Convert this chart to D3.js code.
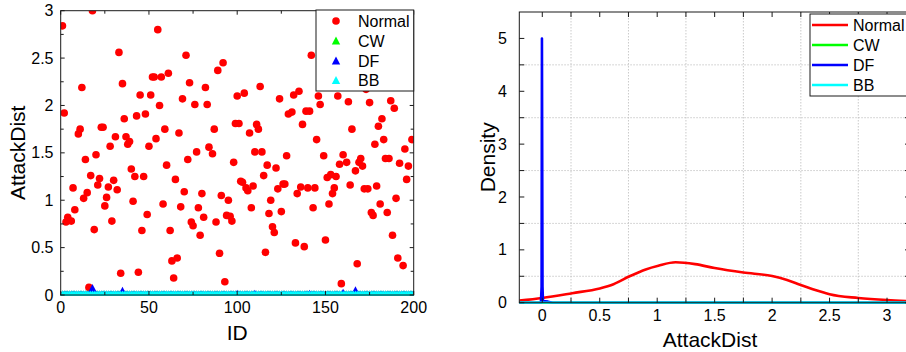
<!DOCTYPE html>
<html><head><meta charset="utf-8">
<script src="https://cdn.jsdelivr.net/npm/d3@7/dist/d3.min.js"></script>
<style>html,body{margin:0;padding:0;background:#fff}svg{display:block;font-family:"Liberation Sans",Arial,Helvetica,sans-serif}</style>
</head><body><svg id="chart" width="906" height="352"></svg>
<script>
// ---------- DATA ----------
const seriesNames = ["Normal", "CW", "DF", "BB"];
const seriesColors = ["#ff0000", "#00ff00", "#0000ff", "#00ffff"];

// Left panel: AttackDist per ID (Normal)
const normalIds = [1,2,3,4,6,7,8,10,11,12,13,14,15,16,17,18,19,20,21,22,23,24,25,26,27,28,29,30,31,32,33,34,35,36,37,38,39,40,41,42,43,44,45,46,47,48,49,50,
51,52,53,54,55,56,57,58,59,60,61,62,63,64,65,66,67,68,69,70,71,72,73,74,75,76,77,78,79,80,81,82,83,84,86,87,88,89,90,91,92,93,94,95,96,97,98,99,100,101,
102,103,104,105,106,107,108,109,110,111,112,113,114,115,116,117,118,119,120,121,122,123,124,125,126,127,128,129,131,132,133,134,135,136,137,138,139,140,141,142,143,144,145,146,147,149,150,
151,152,153,154,155,156,157,158,159,160,162,163,164,165,167,168,169,170,171,172,173,174,175,176,177,178,179,180,181,182,183,184,185,186,187,188,189,190,191,192,194,195,196,197,199,200];
const normalValues = [2.84,1.92,0.77,0.82,0.78,1.13,0.90,1.70,1.75,2.19,1.02,1.43,1.08,0.08,1.26,3.00,0.69,1.48,1.16,1.23,1.77,1.77,0.94,1.03,1.14,1.57,0.78,1.21,1.67,1.11,2.56,0.23,2.23,1.86,1.67,1.59,1.62,1.33,0.99,1.25,1.89,0.24,2.11,0.68,1.25,1.91,0.85,1.57,
2.11,2.30,2.30,1.65,2.80,2.00,2.30,0.96,1.75,1.37,2.34,0.68,0.36,0.18,1.22,0.39,1.71,0.93,2.07,1.09,2.53,1.43,2.24,0.77,0.73,2.01,1.51,0.92,0.63,1.07,0.82,2.19,2.01,1.56,1.49,1.75,0.77,2.37,0.44,1.05,2.45,0.14,0.84,1.00,0.83,0.78,1.40,1.81,2.10,1.81,
1.20,1.19,2.13,1.13,1.10,1.71,0.92,1.15,1.51,1.80,1.75,2.20,1.51,1.26,0.45,1.37,0.86,1.00,0.72,0.66,1.34,1.12,2.07,0.88,1.17,1.17,1.47,1.91,1.93,2.11,0.55,1.07,2.15,1.14,1.80,0.51,1.94,1.13,1.94,2.53,0.92,1.13,1.64,2.10,2.01,1.47,0.58,
1.24,0.96,1.27,1.07,1.13,1.25,2.10,1.38,0.12,1.48,1.40,2.04,1.16,1.75,1.31,0.33,1.40,1.44,1.36,1.12,2.17,1.12,2.03,0.87,0.84,1.59,1.15,1.78,0.96,1.86,1.64,1.44,0.87,1.44,2.05,0.63,1.97,1.02,0.39,1.39,0.31,1.54,1.22,1.36,1.64,2.65];

// Attack series: value for ID 1..200
const cwValues = [0,0,0,0,0,0,0,0,0,0,0,0,0,0,0,0,0,0,0,0,0,0,0,0,0,0,0,0,0,0,0,0,0,0,0,0,0,0,0,0,0,0,0,0,0,0,0,0,0,0,
0,0,0,0,0,0,0,0,0,0,0,0,0,0,0,0,0,0,0,0,0,0,0,0,0,0,0,0,0,0,0,0,0,0,0,0,0,0,0,0,0,0,0,0,0,0,0,0,0,0,
0,0,0,0,0,0,0,0,0,0,0,0,0,0,0,0,0,0,0,0,0,0,0,0,0,0,0,0,0,0,0,0,0,0,0,0,0,0,0,0,0,0,0,0,0,0,0,0,0,0,
0,0,0,0,0,0,0,0,0,0,0,0,0,0,0,0,0,0,0,0,0,0,0,0,0,0,0,0,0,0,0,0,0,0,0,0,0,0,0,0,0,0,0,0,0,0,0,0,0,0];
const dfValues = [0,0,0,0,0,0,0,0,0,0,0,0,0,0,0,0,0,0.07,0,0,0,0,0,0,0,0,0,0,0,0,0,0,0,0,0.04,0,0,0,0,0,0,0,0,0,0,0,0,0,0,0,
0,0,0,0,0,0,0,0,0,0,0,0,0,0,0,0,0,0,0,0,0,0,0,0,0,0,0,0,0,0,0,0,0,0,0,0,0,0,0,0,0,0,0,0,0,0,0,0,0,0.01,
0,0,0,0,0,0,0,0,0,0.01,0,0,0,0,0,0,0,0,0,0,0,0,0,0,0,0,0,0,0,0,0,0,0,0,0,0,0,0,0,0,0.01,0,0,0,0,0,0,0,0,0,
0,0,0,0,0,0,0,0,0,0.02,0,0,0,0,0,0,0.045,0,0,0,0,0,0,0,0,0,0,0,0,0,0,0,0,0,0,0,0,0,0,0,0,0,0,0,0,0,0,0,0,0];
const bbValues = [0,0,0,0,0,0,0,0,0,0,0,0,0,0,0,0,0,0,0,0,0,0,0,0,0,0,0,0,0,0,0,0,0,0,0,0,0,0,0,0,0,0,0,0,0,0,0,0,0,0,
0,0,0,0,0,0,0,0,0,0,0,0,0,0,0,0,0,0,0,0,0,0,0,0,0,0,0,0,0,0,0,0,0,0,0,0,0,0,0,0,0,0,0,0,0,0,0,0,0,0,
0,0,0,0,0,0,0,0,0,0,0,0,0,0,0,0,0,0,0,0,0,0,0,0,0,0,0,0,0,0,0,0,0,0,0,0,0,0,0,0,0,0,0,0,0,0,0,0,0,0,
0,0,0,0,0,0,0,0,0,0,0,0,0,0,0,0,0,0,0,0,0,0,0,0,0,0,0,0,0,0,0,0,0,0,0,0,0,0,0,0,0,0,0,0,0,0,0,0,0,0];

const leftXTicks = [0, 50, 100, 150, 200];
const leftXMinor = [25, 75, 125, 175];
const leftYTicks = [0, 0.5, 1, 1.5, 2, 2.5, 3];
const leftYMinor = [0.25, 0.75, 1.25, 1.75, 2.25, 2.75];

// Right panel: density curves
const normalDensityX = [-0.2, 0, 0.26, 0.5, 0.62, 0.76, 0.9, 1.01, 1.16, 1.33, 1.5, 1.75, 2.0, 2.13, 2.25, 2.42, 2.5, 2.75, 3.0, 3.2];
const normalDensity  = [0.04, 0.09, 0.18, 0.27, 0.35, 0.50, 0.63, 0.70, 0.765, 0.73, 0.655, 0.57, 0.505, 0.43, 0.335, 0.21, 0.16, 0.09, 0.05, 0.03];
const dfDensityX = [-0.2, -0.012, -0.006, -0.003, 0.002, 0.006, 0.05, 0.09, 3.2];
const dfDensity  = [0, 0, 0.3, 5.0, 0.3, 0.03, 0.02, 0, 0];
const cwDensityX = [-0.2, 3.2];
const cwDensity  = [0, 0];
const bbDensityX = [-0.2, 3.2];
const bbDensity  = [0, 0];

const rightXTicks = [0, 0.5, 1, 1.5, 2, 2.5, 3];
const rightXMinor = [0.25, 0.75, 1.25, 1.75, 2.25, 2.75];
const rightYTicks = [0, 1, 2, 3, 4, 5];
const rightYMinor = [0.5, 1.5, 2.5, 3.5, 4.5];

// ---------- DRAW ----------
const svg = d3.select("#chart");
const axisColor = "#1a1a1a";
const FS = 16;

svg.append("rect").attr("width", 906).attr("height", 352).attr("fill", "#fff");
const defs = svg.append("defs");

function tri(s) { return `M0,${-s} L${s*0.95},${s*0.8} L${-s*0.95},${s*0.8} Z`; }

// ===== LEFT PANEL =====
const L = {x0: 60.7, x1: 413.7, y0: 10.7, y1: 295};
const lx = d3.scaleLinear().domain([0, 200]).range([L.x0, L.x1]);
const ly = d3.scaleLinear().domain([0, 3]).range([L.y1, L.y0]);

defs.append("clipPath").attr("id", "clipL").append("rect")
  .attr("x", L.x0).attr("y", L.y0).attr("width", L.x1 - L.x0).attr("height", L.y1 - L.y0 + 1);

const gL = svg.append("g");
const dataL = gL.append("g").attr("clip-path", "url(#clipL)");

dataL.selectAll("circle.normal").data(normalIds.map((id, i) => [id, normalValues[i]]))
  .join("circle").attr("class", "normal")
  .attr("cx", d => lx(d[0])).attr("cy", d => ly(d[1])).attr("r", 3.8)
  .attr("fill", seriesColors[0]);

[[cwValues, 1], [dfValues, 2], [bbValues, 3]].forEach(([vals, k]) => {
  dataL.append("g").selectAll("path").data(vals.map((v, i) => [i + 1, v]))
    .join("path")
    .attr("d", tri(4.4))
    .attr("transform", d => `translate(${lx(d[0])},${ly(d[1])})`)
    .attr("fill", seriesColors[k]);
});

// axes box + ticks
function drawTicks(g, box, xs, ys, xTicksMajor, xTicksMinor, yTicksMajor, yTicksMinor, maj, min) {
  const t = g.append("g").attr("stroke", axisColor).attr("stroke-width", 1);
  const addX = (vals, len) => vals.forEach(v => {
    const x = xs(v);
    if (x < box.x0 - 0.5 || x > box.x1 + 0.5) return;
    t.append("line").attr("x1", x).attr("x2", x).attr("y1", box.y1).attr("y2", box.y1 - len);
    t.append("line").attr("x1", x).attr("x2", x).attr("y1", box.y0).attr("y2", box.y0 + len);
  });
  const addY = (vals, len) => vals.forEach(v => {
    const y = ys(v);
    t.append("line").attr("y1", y).attr("y2", y).attr("x1", box.x0).attr("x2", box.x0 + len);
    t.append("line").attr("y1", y).attr("y2", y).attr("x1", box.x1).attr("x2", box.x1 - len);
  });
  addX(xTicksMajor, maj); addX(xTicksMinor, min);
  addY(yTicksMajor, maj); addY(yTicksMinor, min);
  g.append("rect").attr("x", box.x0).attr("y", box.y0)
    .attr("width", box.x1 - box.x0).attr("height", box.y1 - box.y0)
    .attr("fill", "none").attr("stroke", axisColor).attr("stroke-width", 1);
}
drawTicks(gL, L, lx, ly, leftXTicks, leftXMinor, leftYTicks, leftYMinor, 4, 3);

// tick labels
gL.append("g").selectAll("text").data(leftXTicks).join("text")
  .attr("x", d => lx(d)).attr("y", 313).attr("text-anchor", "middle")
  .attr("font-size", FS).attr("fill", "#000").text(d => d);
gL.append("g").selectAll("text").data(leftYTicks).join("text")
  .attr("x", 53.5).attr("y", d => ly(d)).attr("dy", "0.35em").attr("text-anchor", "end")
  .attr("font-size", FS).attr("fill", "#000").text(d => d);

gL.append("text").attr("x", (L.x0 + L.x1) / 2).attr("y", 340).attr("text-anchor", "middle")
  .attr("font-size", 21).attr("fill", "#000").text("ID");
gL.append("text").attr("transform", `translate(25,${(L.y0 + L.y1) / 2}) rotate(-90)`)
  .attr("text-anchor", "middle").attr("font-size", 21).attr("fill", "#000").text("AttackDist");

// legend left
const legL = gL.append("g");
legL.append("rect").attr("x", 316).attr("y", 10).attr("width", L.x1 - 316).attr("height", 81)
  .attr("fill", "#fff").attr("stroke", axisColor).attr("stroke-width", 1);
const legRowsL = [21, 41, 61, 80.5];
seriesNames.forEach((name, i) => {
  if (i === 0) legL.append("circle").attr("cx", 336).attr("cy", legRowsL[i]).attr("r", 3.8).attr("fill", seriesColors[i]);
  else legL.append("path").attr("d", tri(4.4)).attr("transform", `translate(336,${legRowsL[i]})`).attr("fill", seriesColors[i]);
  legL.append("text").attr("x", 358).attr("y", legRowsL[i]).attr("dy", "0.35em")
    .attr("font-size", FS).attr("fill", "#000").text(name);
});

// ===== RIGHT PANEL =====
const R = {x0: 519.3, x1: 910, y0: 12, y1: 302.7};
const rx = d3.scaleLinear().domain([-0.2, 3.2]).range([R.x0, R.x1]);
const ry = d3.scaleLinear().domain([0, 5.5]).range([R.y1, R.y0]);

defs.append("clipPath").attr("id", "clipR").append("rect")
  .attr("x", R.x0).attr("y", R.y0).attr("width", R.x1 - R.x0).attr("height", R.y1 - R.y0 + 1);

const gR = svg.append("g");
// minor grid
const grid = gR.append("g").attr("stroke", "#bdbdbd").attr("stroke-width", 0.8).attr("stroke-dasharray", "1.5,1.5");
rightXMinor.forEach(v => grid.append("line").attr("x1", rx(v)).attr("x2", rx(v)).attr("y1", R.y0).attr("y2", R.y1));
rightYMinor.forEach(v => grid.append("line").attr("y1", ry(v)).attr("y2", ry(v)).attr("x1", R.x0).attr("x2", R.x1));

const dataR = gR.append("g").attr("clip-path", "url(#clipR)");
const lineR = d3.line().x(d => rx(d[0])).y(d => ry(d[1]));
const curves = [
  [normalDensityX, normalDensity, d3.curveMonotoneX],
  [cwDensityX, cwDensity, d3.curveLinear],
  [dfDensityX, dfDensity, d3.curveLinear],
  [bbDensityX, bbDensity, d3.curveLinear]
];
curves.forEach(([xs, ys, cv], i) => {
  dataR.append("path").datum(xs.map((x, j) => [x, ys[j]]))
    .attr("d", lineR.curve(cv)).attr("fill", "none")
    .attr("stroke", seriesColors[i]).attr("stroke-width", 2.6).attr("stroke-linejoin", "round");
});

drawTicks(gR, R, rx, ry, rightXTicks, rightXMinor, rightYTicks, rightYMinor, 5, 5);

gR.append("g").selectAll("text").data(rightXTicks).join("text")
  .attr("x", d => rx(d)).attr("y", 321).attr("text-anchor", "middle")
  .attr("font-size", FS).attr("fill", "#000").text(d => d);
gR.append("g").selectAll("text").data(rightYTicks).join("text")
  .attr("x", 507).attr("y", d => ry(d)).attr("dy", "0.35em").attr("text-anchor", "end")
  .attr("font-size", FS).attr("fill", "#000").text(d => d);

gR.append("text").attr("x", 710).attr("y", 346.5).attr("text-anchor", "middle")
  .attr("font-size", 21).attr("fill", "#000").text("AttackDist");
gR.append("text").attr("transform", `translate(495,${(R.y0 + R.y1) / 2}) rotate(-90)`)
  .attr("text-anchor", "middle").attr("font-size", 21).attr("fill", "#000").text("Density");

// legend right
const legR = gR.append("g");
legR.append("rect").attr("x", 810).attr("y", 14).attr("width", 120).attr("height", 82)
  .attr("fill", "#fff").attr("stroke", axisColor).attr("stroke-width", 1);
const legRowsR = [25, 45, 65, 85];
seriesNames.forEach((name, i) => {
  legR.append("line").attr("x1", 812).attr("x2", 848).attr("y1", legRowsR[i]).attr("y2", legRowsR[i])
    .attr("stroke", seriesColors[i]).attr("stroke-width", 2.6);
  legR.append("text").attr("x", 853).attr("y", legRowsR[i]).attr("dy", "0.35em")
    .attr("font-size", FS).attr("fill", "#000").text(name);
});
</script>
</body></html>
